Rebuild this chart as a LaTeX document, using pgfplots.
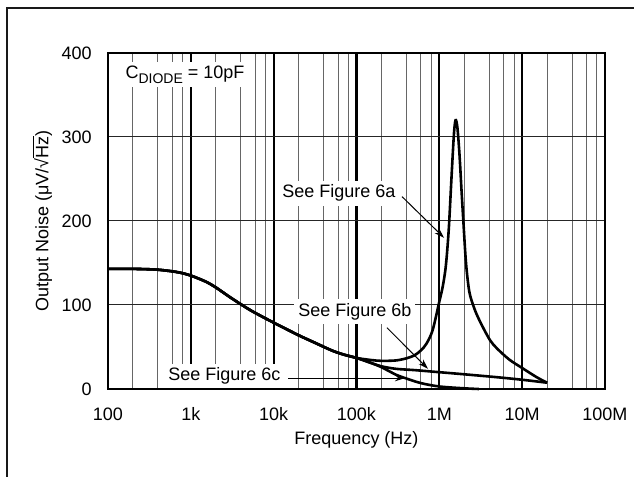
\documentclass[border=0pt]{standalone}
\usepackage{fontspec}
\setmainfont{Liberation Sans}
\usepackage{pgfplots}
\pgfplotsset{compat=1.18}
\usetikzlibrary{arrows.meta}

\pgfplotstableread{
f v
100 143
200 143
400 142
700 139
1000 135
1500 128
2000 121
3000 109
5000 95
7000 87
10000 79
20000 64
30000 56
50000 46
70000 41
100000 37
150000 34.5
200000 33.5
300000 34
400000 36.5
500000 40
600000 46
700000 54
830000 70
1000000 104
1100000 122
1200000 147
1300000 190
1400000 250
1500000 303
1570000 320
1650000 312
1750000 280
1850000 238
1950000 200
2100000 150
2300000 116
2600000 98
2850000 88
3300000 75
4100000 58
5000000 48
7000000 35
10000000 25
15000000 14
20000000 7.5
}\curveA

\pgfplotstableread{
f v
100 143
200 143
400 142
700 139
1000 135
1500 128
2000 121
3000 109
5000 95
7000 87
10000 79
20000 64
30000 56
50000 46
70000 41
100000 37
150000 31
200000 27
300000 24
500000 22.5
1000000 20
2000000 17.5
5000000 14
10000000 11
20000000 7.5
}\curveB

\pgfplotstableread{
f v
100 143
200 143
400 142
700 139
1000 135
1500 128
2000 121
3000 109
5000 95
7000 87
10000 79
20000 64
30000 56
50000 46
70000 41
100000 37
150000 31
200000 26
300000 17
400000 12.5
600000 7
1000000 3
2000000 0.8
3000000 0
}\curveC

\begin{document}
\fontsize{9}{10.8}\selectfont
\begin{tikzpicture}[x=1pt,y=1pt]
\begin{axis}[
  at={(0,0)}, anchor=south west,
  scale only axis, width=248.5pt, height=168pt,
  xmode=log, log basis x=10,
  xmin=100, xmax=1e8, ymin=0, ymax=400,
  xtick={1e2,1e3,1e4,1e5,1e6,1e7,1e8},
  xticklabels={100,1k,10k,100k,1M,10M,100M},
  minor xtick={200,400,600,800,2000,4000,6000,8000,20000,40000,60000,80000,200000,400000,600000,800000,2000000,4000000,6000000,8000000,20000000,40000000,60000000,80000000},
  ytick={0,100,200,300,400},
  yticklabels={0,100,200,300,400},
  xmajorgrids, xminorgrids, ymajorgrids,
  major x grid style={black, line width=1.1pt},
  minor x grid style={black!60, line width=0.5pt},
  major y grid style={black!85, line width=0.5pt},
  major tick length=0pt, minor tick length=0pt,
  tick style={draw=none},
  axis line style={black, line width=1.1pt},
  xticklabel style={anchor=center, yshift=-12.5pt, inner sep=0pt},
  yticklabel style={anchor=east, xshift=-8pt, inner sep=0pt},
  xlabel={Frequency (Hz)},
  ylabel={Output Noise (μV/√$\overline{\mbox{Hz}}$)},
  xlabel style={at={(axis description cs:0.5,-0.1518)}, anchor=center},
  ylabel style={at={(axis description cs:-0.1328,0.5)}, anchor=center, rotate=0},
  clip=false,
]
\addplot[black, line width=1.3pt, smooth] table[x=f,y=v] {\curveA};
\addplot[black, line width=1.3pt, smooth] table[x=f,y=v] {\curveB};
\addplot[black, line width=1.3pt, smooth] table[x=f,y=v] {\curveC};

\node[fill=white, inner sep=2pt, anchor=west] at (axis cs:144,374) {C\raisebox{-2.2pt}{\fontsize{7}{8}\selectfont DIODE} = 10pF};
\node[fill=white, inner sep=2pt, anchor=west] at (axis cs:11300,233) {See Figure 6a};
\node[fill=white, inner sep=2pt, anchor=west] at (axis cs:17600,92) {See Figure 6b};
\node[fill=white, inner sep=2pt, anchor=west] at (axis cs:474,15.5) {See Figure 6c};

\draw[-{Stealth[length=5pt,width=3.2pt]}, line width=0.5pt] (axis cs:355000,229) -- (axis cs:1140000,180);
\draw[-{Stealth[length=5pt,width=3.2pt]}, line width=0.5pt] (axis cs:233000,73) -- (axis cs:730000,24);
\draw[-{Stealth[length=5pt,width=3.2pt]}, line width=0.5pt] (axis cs:14900,13) -- (axis cs:385000,13);
\end{axis}
\draw[black!90, line width=1pt] (-50.5,-60) -- (-50.5,190.5) -- (290,190.5);
\pgfresetboundingbox
\useasboundingbox (-54,-44) rectangle (263,194.5);
\end{tikzpicture}
\end{document}
